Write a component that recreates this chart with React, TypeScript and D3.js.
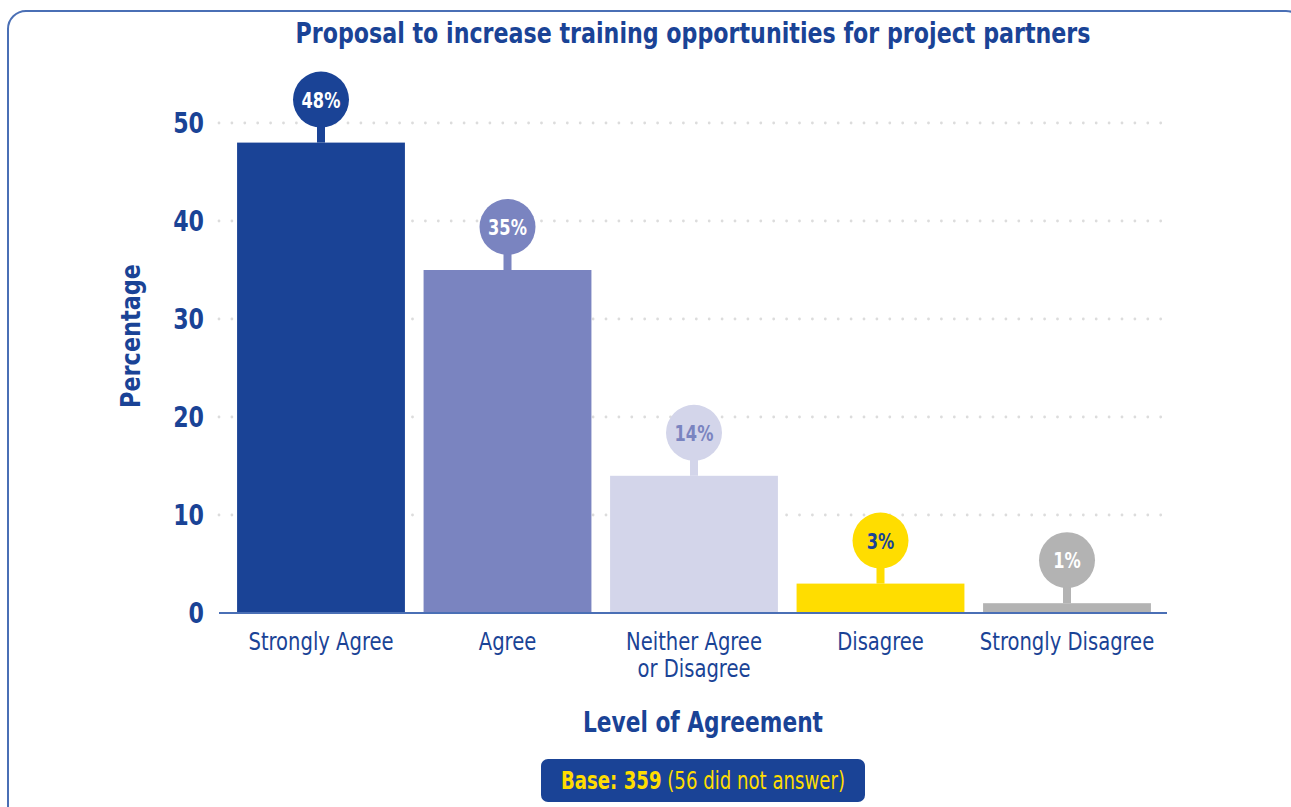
import React from "react";
import * as d3 from "d3";

const categories = ["Strongly Agree", "Agree", "Neither Agree\nor Disagree", "Disagree", "Strongly Disagree"];
const values = [48, 35, 14, 3, 1];
const labels = ["48%", "35%", "14%", "3%", "1%"];
const barColors = ["#1a4396", "#7a84c0", "#d3d5ea", "#ffdd00", "#b3b3b3"];
const labelColors = ["#ffffff", "#ffffff", "#7a84c0", "#1a4396", "#ffffff"];
const yTicks = [0, 10, 20, 30, 40, 50];

const W = 1291;
const H = 807;
const BLUE = "#1a4396";
const FONT = "'DejaVu Sans Condensed', 'DejaVu Sans', sans-serif";

function SText({ x, y, sx, children, ...rest }: any) {
  return (
    <g transform={`translate(${x},${y}) scale(${sx},1)`}>
      <text x={0} y={0} {...rest}>
        {children}
      </text>
    </g>
  );
}

export default function App() {
  const x = d3
    .scaleBand<string>()
    .domain(categories)
    .range([227.75, 1160.25])
    .paddingInner(0.1)
    .paddingOuter(0.05);
  const y = d3.scaleLinear().domain([0, 50]).range([613, 123]);
  const axisX0 = 219;
  const axisX1 = 1167;
  const dotXs = d3.range(axisX0, axisX1, 12.9);

  return (
    <svg
      width={W}
      height={H}
      style={{ position: "absolute", left: 0, top: 0 }}
      fontFamily={FONT}
    >
      <rect x={0} y={0} width={W} height={H} fill="#fff" />
      <rect x={8} y={11} width={1296} height={830} rx={18} ry={18} fill="none" stroke="#4a6fb5" strokeWidth={2} />
      <text x={693} y={43} textAnchor="middle" fontSize={29} fontWeight="bold" fill={BLUE} textLength={795} lengthAdjust="spacingAndGlyphs">
        Proposal to increase training opportunities for project partners
      </text>

      {/* grid */}
      {yTicks.filter((t) => t > 0).map((t) => (
        <g key={t}>
          {dotXs.map((dx, i) => (
            <circle key={i} cx={dx} cy={y(t)} r={1.4} fill="#dcdcdc" />
          ))}
        </g>
      ))}

      {/* y tick labels */}
      {yTicks.map((t) => (
        <SText key={t} x={204} y={y(t) + 10} sx={0.88} textAnchor="end" fontSize={28} fontWeight="bold" fill={BLUE}>
          {t}
        </SText>
      ))}

      {/* bars */}
      {categories.map((c, i) => {
        const bx = x(c)!;
        const bw = x.bandwidth();
        const cx = bx + bw / 2;
        const top = y(values[i]);
        const cy = top - 43;
        return (
          <g key={c}>
            <rect x={bx} y={top} width={bw} height={y(0) - top} fill={barColors[i]} />
            <rect x={cx - 4} y={cy} width={8} height={top - cy} fill={barColors[i]} />
            <circle cx={cx} cy={cy} r={28} fill={barColors[i]} />
            <SText x={cx} y={cy + 8} sx={0.82} textAnchor="middle" fontSize={22} fontWeight="bold" fill={labelColors[i]}>
              {labels[i]}
            </SText>
          </g>
        );
      })}

      {/* axis line */}
      <line x1={axisX0} x2={axisX1} y1={613} y2={613} stroke="#4a6fb5" strokeWidth={2} />

      {/* x labels */}
      {categories.map((c) => {
        const cx = x(c)! + x.bandwidth() / 2;
        const lines = c.split("\n");
        return (
          <g key={c}>
            {lines.map((l, j) => (
              <SText key={j} x={cx} y={650 + j * 27} sx={0.87} textAnchor="middle" fontSize={25} fill={BLUE}>
                {l}
              </SText>
            ))}
          </g>
        );
      })}

      {/* axis titles */}
      <text x={703} y={732} textAnchor="middle" fontSize={28} fontWeight="bold" fill={BLUE} textLength={240} lengthAdjust="spacingAndGlyphs">
        Level of Agreement
      </text>
      <text
        transform="translate(140,336) rotate(-90)"
        textAnchor="middle"
        fontSize={27}
        fontWeight="bold"
        fill={BLUE}
        textLength={144}
        lengthAdjust="spacingAndGlyphs"
      >
        Percentage
      </text>

      {/* base box */}
      <rect x={541} y={759} width={324} height={43} rx={7} ry={7} fill={BLUE} />
      <SText x={703} y={789} sx={0.84} textAnchor="middle" fontSize={24} fill="#ffdd00">
        <tspan fontWeight="bold">Base: 359</tspan> (56 did not answer)
      </SText>
    </svg>
  );
}
